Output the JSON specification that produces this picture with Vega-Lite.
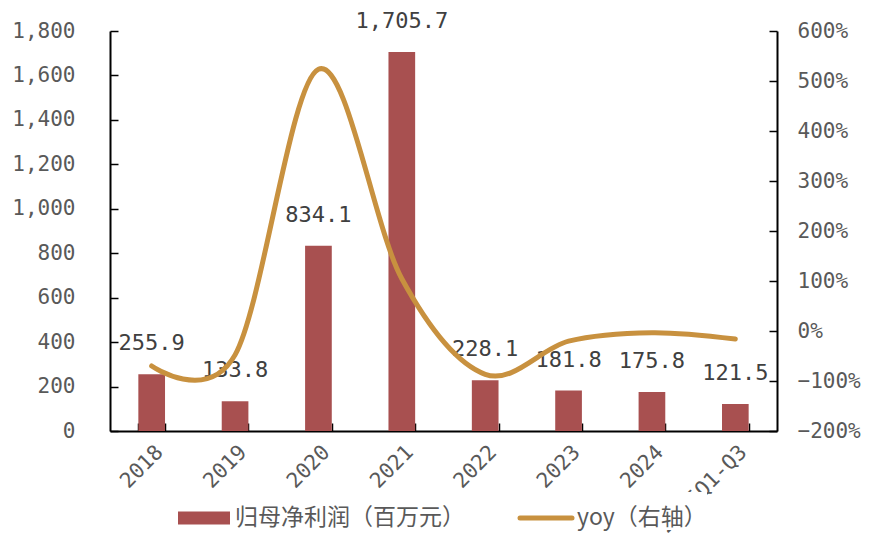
{
  "$schema": "https://vega.github.io/schema/vega-lite/v6.json",
  "autosize": "none",
  "width": 667,
  "height": 400,
  "padding": {"left": 110, "top": 31, "right": 92, "bottom": 102},
  "background": "white",
  "config": {
    "view": {"stroke": null},
    "axis": {
      "grid": false,
      "domainColor": "black",
      "domainWidth": 2,
      "tickColor": "black",
      "tickWidth": 1.5,
      "tickSize": -8,
      "labelFont": "DejaVu Sans Mono",
      "labelFontSize": 21,
      "labelColor": "#595959",
      "title": null
    }
  },
  "data": {
    "values": [
      {"year": "2018", "profit": 255.9, "yoy": -0.70},
      {"year": "2019", "profit": 133.8, "yoy": -0.477},
      {"year": "2020", "profit": 834.1, "yoy": 5.234},
      {"year": "2021", "profit": 1705.7, "yoy": 1.045},
      {"year": "2022", "profit": 228.1, "yoy": -0.866},
      {"year": "2023", "profit": 181.8, "yoy": -0.203},
      {"year": "2024", "profit": 175.8, "yoy": -0.033},
      {"year": "2025Q1-Q3", "profit": 121.5, "yoy": -0.16}
    ]
  },
  "encoding": {
    "x": {
      "field": "year",
      "type": "nominal",
      "sort": null,
      "scale": {"paddingInner": 0.68, "paddingOuter": 0.34},
      "axis": {"labelAngle": -45, "labelPadding": 18, "tickBand": "extent"}
    }
  },
  "layer": [
    {
      "layer": [
        {
          "mark": {"type": "bar"},
          "encoding": {
            "y": {
              "field": "profit",
              "type": "quantitative",
              "scale": {"domain": [0, 1800]},
              "axis": {"values": [0, 200, 400, 600, 800, 1000, 1200, 1400, 1600, 1800], "format": ",.0f", "labelPadding": 43, "orient": "left"}
            },
            "color": {
              "datum": "归母净利润（百万元）",
              "type": "nominal",
              "scale": {"domain": ["归母净利润（百万元）", "yoy（右轴）"], "range": ["#A85050", "#C8913F"]},
              "legend": {
                "orient": "none",
                "legendX": 68,
                "legendY": 461,
                "direction": "horizontal",
                "title": null,
                "labelFont": "Noto Sans CJK SC",
                "labelFontSize": 23,
                "labelColor": "#595959",
                "labelLimit": 400,
                "labelOffset": 5,
                "columnPadding": 45,
                "symbolSize": 2704,
                "symbolType": "M-1,-0.25H1V0.25H-1Z",
                "fillColor": "white",
                "encode": {
                  "symbols": {
                    "update": {
                      "shape": {"signal": "(datum.value === 'yoy（右轴）' ? 'stroke' : 'M-1,-0.25H1V0.25H-1Z')"},
                      "fill": {"signal": "(datum.value === 'yoy（右轴）' ? 'transparent' : '#A85050')"},
                      "stroke": {"signal": "(datum.value === 'yoy（右轴）' ? '#C8913F' : 'transparent')"},
                      "strokeWidth": {"signal": "(datum.value === 'yoy（右轴）' ? 5 : 0)"},
                      "strokeCap": {"value": "round"},
                      "opacity": {"value": 1}
                    }
                  }
                }
              }
            }
          }
        },
        {
          "mark": {"type": "text", "dy": -31, "baseline": "middle", "font": "DejaVu Sans Mono", "fontSize": 22, "color": "#404040"},
          "encoding": {
            "y": {"field": "profit", "type": "quantitative"},
            "text": {"field": "profit", "type": "quantitative", "format": ",.1f"}
          }
        }
      ]
    },
    {
      "mark": {"type": "line", "interpolate": "cardinal", "strokeWidth": 5, "strokeCap": "round"},
      "encoding": {
        "y": {
          "field": "yoy",
          "type": "quantitative",
          "scale": {"domain": [-2, 6]},
          "axis": {"orient": "right", "values": [-2, -1, 0, 1, 2, 3, 4, 5, 6], "format": ".0%", "labelPadding": 28}
        },
        "color": {"datum": "yoy（右轴）", "type": "nominal"}
      }
    }
  ],
  "resolve": {"scale": {"y": "independent"}}
}
